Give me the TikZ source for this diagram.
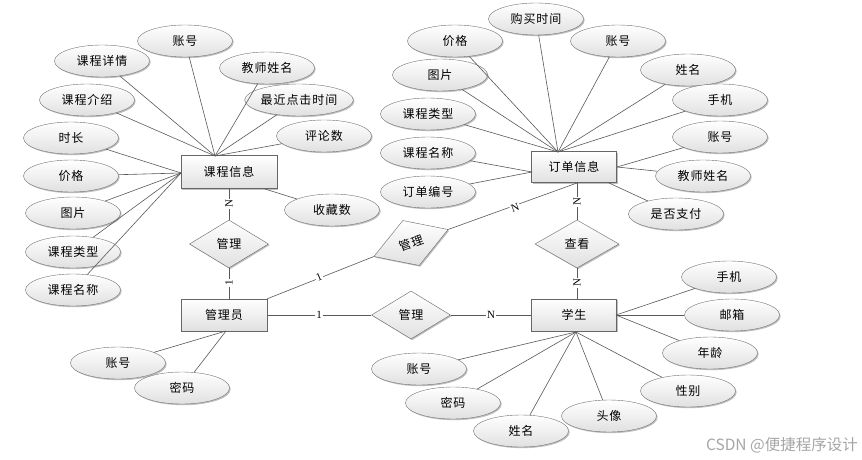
\documentclass[tikz,border=0pt]{standalone}
\usepackage{fontspec}
\newfontfamily\cjk[LetterSpace=8]{Noto Sans CJK SC}
\newfontfamily\cjkwm{Noto Sans CJK SC}
\newfontfamily\lblfont{Liberation Serif}
\usetikzlibrary{shapes.geometric,shadows}
\begin{document}
\begin{tikzpicture}[x=1pt,y=-1pt,
  shd/.style={drop shadow={shadow xshift=1.2pt,shadow yshift=-1.2pt,opacity=0.25,fill=black}},
  attr/.style={ellipse,draw=black!55,top color=white,bottom color=black!12,shd,
    minimum width=95pt,minimum height=32pt,inner sep=0pt,font=\cjk\fontsize{12}{12}\selectfont},
  ent/.style={rectangle,draw=black!60,top color=white,bottom color=black!12,shd,
    minimum width=85pt,minimum height=32pt,inner sep=0pt,font=\cjk\fontsize{12}{12}\selectfont},
  rel/.style={diamond,draw=black!60,top color=white,bottom color=black!12,shd,
    minimum width=79pt,minimum height=48pt,inner sep=0pt,font=\cjk\fontsize{12}{12}\selectfont},
  ln/.style={draw=black!65,line width=0.6pt},
  card/.style={font=\lblfont\fontsize{11}{11}\selectfont,fill=white,inner sep=1pt}]
\useasboundingbox (0,0) rectangle (862,460);
\fill[white] (0,0) rectangle (862,460);

% ---------- 课程信息 ----------
\node[ent,minimum width=96pt,minimum height=33pt] (ci) at (229,172) {课程信息};
\node[attr] (c1) at (185,41) {账号};
\node[attr] (c2) at (102,61) {课程详情};
\node[attr] (c3) at (267,68) {教师姓名};
\node[attr] (c4) at (87,100) {课程介绍};
\node[attr] (c5) at (299,100) {最近点击时间};
\node[attr] (c6) at (71,138) {时长};
\node[attr] (c7) at (324,136) {评论数};
\node[attr] (c8) at (71,176) {价格};
\node[attr] (c9) at (73,213) {图片};
\node[attr] (c10) at (332,210) {收藏数};
\node[attr] (c11) at (73,252) {课程类型};
\node[attr] (c12) at (73,290) {课程名称};
\coordinate (ciT) at (215,156);
\coordinate (ciL) at (181,173);
\coordinate (ciBR) at (265,189);
\foreach \n in {c1,c2,c3,c4,c5,c7} \draw[ln] (\n) -- (ciT);
\foreach \n in {c6,c8,c9,c11,c12} \draw[ln] (\n) -- (ciL);
\draw[ln] (c10) -- (ciBR);

% ---------- 管理员 ----------
\node[rel] (m1) at (229,244) {管理};
\node[ent,minimum width=86pt] (adm) at (224,315) {管理员};
\node[attr] (a1) at (118,363) {账号};
\node[attr] (a2) at (182,388) {密码};
\coordinate (admB) at (226,331);
\draw[ln] (a1) -- (admB);
\draw[ln] (a2) -- (admB);
\draw[ln] (m1.north) -- (m1.north |- ci.south);
\draw[ln] (m1.south) -- (m1.south |- adm.north);
\node[card,rotate=90] (n1) at (229,204) {N};
\node[card,rotate=90] (o1) at (229,283) {1};

% ---------- 订单信息 ----------
\node[ent,minimum height=31pt] (dd) at (574,167) {订单信息};
\node[attr] (d1) at (536,19) {购买时间};
\node[attr] (d2) at (455,41) {价格};
\node[attr] (d3) at (618,41) {账号};
\node[attr] (d4) at (440,75) {图片};
\node[attr] (d5) at (688,70) {姓名};
\node[attr] (d6) at (720,100) {手机};
\node[attr] (d7) at (428,114) {课程类型};
\node[attr] (d8) at (720,137) {账号};
\node[attr] (d9) at (428,153) {课程名称};
\node[attr] (d10) at (703,176) {教师姓名};
\node[attr] (d11) at (428,192) {订单编号};
\node[attr] (d12) at (676,214) {是否支付};
\coordinate (ddT) at (558,152);
\coordinate (ddL) at (532,172);
\coordinate (ddR) at (617,167);
\coordinate (ddBR) at (609,183);
\coordinate (ddB) at (577,183);
\foreach \n in {d1,d2,d3,d4,d5,d6,d7} \draw[ln] (\n) -- (ddT);
\foreach \n in {d9,d11} \draw[ln] (\n) -- (ddL);
\foreach \n in {d8,d10} \draw[ln] (\n) -- (ddR);
\draw[ln] (d12) -- (ddBR);

% ---------- 管理 (rotated) ----------
\node[rel,rotate=20] (m2) at (411,243) {管理};
\draw[ln] (adm.north east) -- (m2.west);
\draw[ln] (m2.east) -- (ddB);
\node[card,rotate=23] (o2) at (319,277) {1};
\node[card,rotate=20] (n2) at (515,208) {N};

% ---------- 学生 ----------
\node[rel,minimum width=84pt] (ck) at (577,244) {查看};
\node[ent] (st) at (574,315) {学生};
\draw[ln] (ck.north) -- (ck.north |- dd.south);
\draw[ln] (ck.south) -- (ck.south |- st.north);
\node[card,rotate=90] (n3) at (577,202) {N};
\node[card,rotate=90] (n4) at (577,283) {N};

\node[rel] (m3) at (411,315) {管理};
\draw[ln] (adm) -- (m3);
\draw[ln] (m3) -- (st);
\node[card] (o3) at (319,315) {1};
\node[card] (n5) at (491,315) {N};

\node[attr] (s1) at (729,277) {手机};
\node[attr] (s2) at (732,315) {邮箱};
\node[attr] (s3) at (710,353) {年龄};
\node[attr] (s4) at (419,369) {账号};
\node[attr] (s5) at (688,391) {性别};
\node[attr] (s6) at (453,403) {密码};
\node[attr] (s7) at (609,416) {头像};
\node[attr] (s8) at (521,431) {姓名};
\coordinate (stR) at (616,315);
\coordinate (stB) at (576,332);
\foreach \n in {s1,s2,s3} \draw[ln] (\n) -- (stR);
\foreach \n in {s4,s5,s6,s7,s8} \draw[ln] (\n) -- (stB);

% ---------- watermark ----------
\node[anchor=east,text=black!35,inner sep=0pt,font=\cjkwm\fontsize{15.5}{15.5}\selectfont] (wm) at (858,445) {CSDN @便捷程序设计};
\end{tikzpicture}
\end{document}
